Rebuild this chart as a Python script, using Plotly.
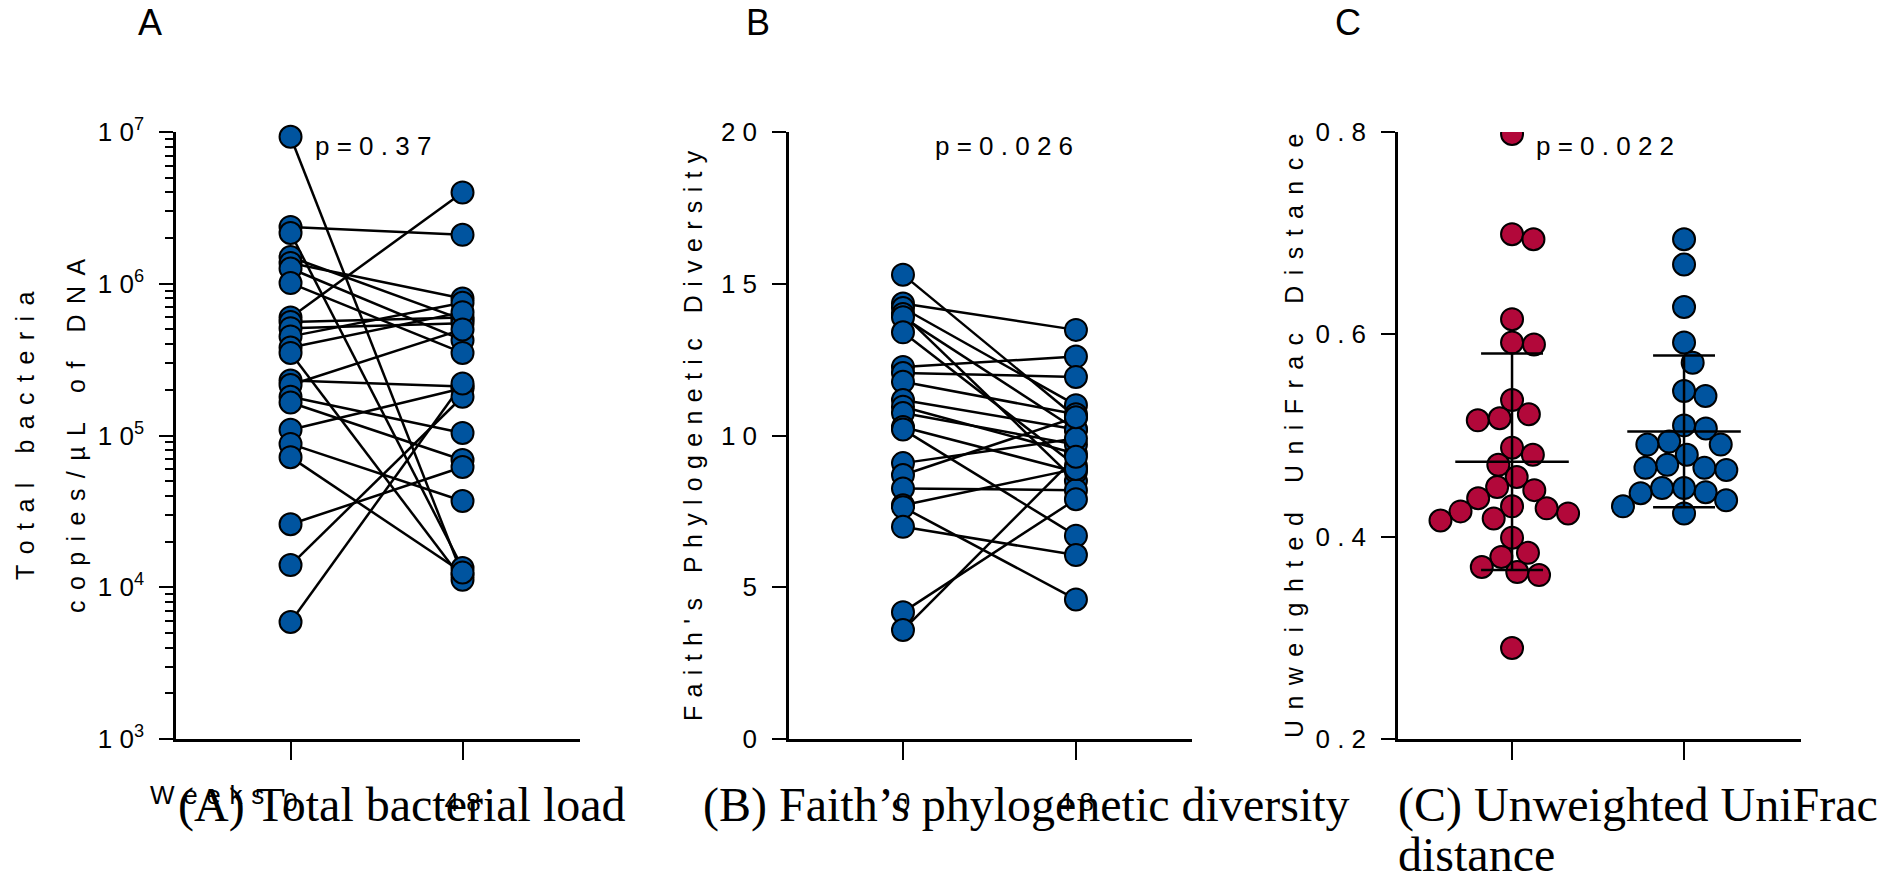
import math
import plotly.graph_objects as go

# ---------------- data ----------------
weeks = ["0", "4 8"]

# Panel A: total bacterial load (copies/uL of DNA), paired week 0 -> week 48
a_week0 = [9.3e6, 2.37e6, 2.16e6, 1.5e6, 1.37e6, 1.26e6, 1.01e6, 6.0e5, 5.6e5, 5.1e5,
           4.5e5, 3.8e5, 3.5e5, 2.3e5, 2.15e5, 1.8e5, 1.65e5, 1.09e5, 8.8e4, 7.2e4,
           2.6e4, 1.4e4, 5.9e3]
a_week48 = [1.2e4, 2.1e6, 1.34e4, 5.8e5, 8.0e5, 4.25e5, 3.5e5, 4.0e6, 6.0e5, 5.5e5,
            7.5e5, 6.5e5, 1.12e4, 2.1e5, 5.0e5, 1.04e5, 6.9e4, 2.05e5, 3.7e4, 1.25e4,
            6.2e4, 1.8e5, 2.2e5]
a_ticks = [1e3, 1e4, 1e5, 1e6, 1e7]
a_ticktext = ["1 0<sup>3</sup>", "1 0<sup>4</sup>", "1 0<sup>5</sup>", "1 0<sup>6</sup>", "1 0<sup>7</sup>"]

# Panel B: Faith's phylogenetic diversity, paired week 0 -> week 48
b_week0 = [15.3, 14.35, 14.2, 14.0, 13.9, 13.4, 12.26, 12.06, 11.77, 11.17, 10.95,
           10.74, 10.28, 10.2, 9.09, 8.7, 8.25, 7.7, 7.64, 6.99, 4.18, 3.59]
b_week48 = [10.6, 13.48, 11.0, 8.5, 10.2, 9.0, 12.6, 11.93, 10.7, 10.2, 9.4,
            9.7, 8.8, 6.7, 9.9, 10.6, 8.2, 8.9, 4.6, 6.06, 7.9, 9.3]
b_ticks = [0, 5, 10, 15, 20]
b_ticktext = ["0", "5", "1 0", "1 5", "2 0"]

# Panel C: unweighted UniFrac distance, two groups
c_group1 = [0.798, 0.699, 0.694, 0.615, 0.592, 0.590, 0.535, 0.521, 0.515, 0.517,
            0.488, 0.481, 0.471, 0.459, 0.449, 0.446, 0.438, 0.430, 0.425, 0.418,
            0.416, 0.423, 0.428, 0.399, 0.380, 0.384, 0.370, 0.365, 0.362, 0.290]
c_group2 = [0.694, 0.669, 0.627, 0.592, 0.572, 0.539, 0.544, 0.507, 0.510, 0.491,
            0.494, 0.491, 0.481, 0.471, 0.468, 0.466, 0.468, 0.444, 0.448, 0.448,
            0.443, 0.436, 0.430, 0.423]
c_mean = [0.474, 0.504]
c_sd = [0.107, 0.075]
c_ticks = [0.2, 0.4, 0.6, 0.8]
c_ticktext = ["0 . 2", "0 . 4", "0 . 6", "0 . 8"]

p_values = ["p = 0 . 3 7", "p = 0 . 0 2 6", "p = 0 . 0 2 2"]
panel_letters = ["A", "B", "C"]
captions = [["(A) Total bacterial load"], ["(B) Faith’s phylogenetic diversity"],
            ["(C) Unweighted UniFrac", "distance"]]

# ---------------- styles ----------------
BLUE = "#00549F"
RED = "#B2083A"
COND = "Liberation Sans Narrow, Arial Narrow, Nimbus Sans Narrow, Liberation Sans, Arial, sans-serif"
SANS = "Liberation Sans, Arial, sans-serif"
SERIF = "Liberation Serif, Times New Roman, serif"
W, H = 1887, 883
YDOM = [1 - 739 / H, 1 - 132 / H]
XDOMS = [[176 / W, 580 / W], [789 / W, 1192 / W], [1398 / W, 1801 / W]]
XRANGES = [[-0.666, 1.683], [-0.659, 1.671], [-0.663, 1.68]]


def spaced(text, gap="\u2004", word="\u2004"):
    return (gap + word + gap).join(gap.join(list(w)) for w in text.split(" "))


def swarm(vals, xscale, yscale, d):
    """simple beeswarm: offsets (in axis units) so circles of diameter d px don't overlap"""
    order = sorted(range(len(vals)), key=lambda i: -vals[i])
    placed = []
    offs = [0.0] * len(vals)
    for i in order:
        y = vals[i] * yscale
        cands = [0.0]
        for (px, py) in placed:
            dy = abs(py - y)
            if dy < d:
                dx = math.sqrt(d * d - dy * dy)
                cands += [px + dx, px - dx]
        cands.sort(key=abs)
        for c in cands:
            if all((c - px) ** 2 + (y - py) ** 2 >= d * d - 1e-6 for (px, py) in placed):
                placed.append((c, y))
                offs[i] = c / xscale
                break
    return offs


fig = go.Figure()

marker_blue = dict(size=22, color=BLUE, line=dict(color="black", width=2))
marker_red = dict(size=22, color=RED, line=dict(color="black", width=2))
LINE = dict(color="black", width=2.5)

# Panel A
lx, ly = [], []
for v0, v1 in zip(a_week0, a_week48):
    lx += [0, 1, None]
    ly += [v0, v1, None]
fig.add_trace(go.Scatter(x=lx, y=ly, mode="lines", line=LINE,
                         xaxis="x", yaxis="y", showlegend=False, hoverinfo="skip", cliponaxis=False))
fig.add_trace(go.Scatter(x=[0] * len(a_week0) + [1] * len(a_week48), y=a_week0 + a_week48,
                         mode="markers", marker=marker_blue, xaxis="x", yaxis="y",
                         showlegend=False, cliponaxis=False))

# Panel B
lx, ly = [], []
for v0, v1 in zip(b_week0, b_week48):
    lx += [0, 1, None]
    ly += [v0, v1, None]
fig.add_trace(go.Scatter(x=lx, y=ly, mode="lines", line=LINE,
                         xaxis="x2", yaxis="y2", showlegend=False, hoverinfo="skip", cliponaxis=False))
fig.add_trace(go.Scatter(x=[0] * len(b_week0) + [1] * len(b_week48), y=b_week0 + b_week48,
                         mode="markers", marker=marker_blue, xaxis="x2", yaxis="y2",
                         showlegend=False, cliponaxis=False))

# Panel C
xscale_c = 403 / (XRANGES[2][1] - XRANGES[2][0])
yscale_c = 607 / 0.6
for gi, (vals, mk) in enumerate([(c_group1, marker_red), (c_group2, marker_blue)]):
    offs = swarm(vals, xscale_c, yscale_c, 22)
    fig.add_trace(go.Scatter(x=[gi + o for o in offs], y=vals, mode="markers", marker=mk,
                             xaxis="x3", yaxis="y3", showlegend=False, cliponaxis=True))
for gi in range(2):
    m, s = c_mean[gi], c_sd[gi]
    xs = [gi - 0.33, gi + 0.33, None, gi, gi, None, gi - 0.18, gi + 0.18, None, gi - 0.18, gi + 0.18]
    ys = [m, m, None, m - s, m + s, None, m + s, m + s, None, m - s, m - s]
    fig.add_trace(go.Scatter(x=xs, y=ys, mode="lines", line=LINE,
                             xaxis="x3", yaxis="y3", showlegend=False, hoverinfo="skip"))

tickfont = dict(family=COND, size=26, color="black")
xcommon = dict(showline=True, linecolor="black", linewidth=2.5, ticks="outside", ticklen=18,
               tickwidth=2, tickcolor="black", showgrid=False, zeroline=False, tickmode="array",
               tickvals=[0, 1], tickfont=tickfont, ticklabelstandoff=20, fixedrange=True,
               automargin=False)
ycommon = dict(showline=True, linecolor="black", linewidth=2.5, ticks="outside", ticklen=14,
               tickwidth=2, tickcolor="black", showgrid=False, zeroline=False, tickmode="array",
               tickfont=tickfont, ticklabelstandoff=10, domain=YDOM, automargin=False)

fig.update_layout(
    width=W, height=H, margin=dict(l=0, r=0, t=0, b=0, autoexpand=False),
    paper_bgcolor="white", plot_bgcolor="rgba(0,0,0,0)", showlegend=False,
    xaxis=dict(xcommon, domain=XDOMS[0], range=XRANGES[0], ticktext=weeks, anchor="y"),
    yaxis=dict(ycommon, type="log", range=[3, 7], tickvals=a_ticks, ticktext=a_ticktext, anchor="x",
               minor=dict(ticks="outside", ticklen=8, tickwidth=1.8, tickcolor="black", dtick="D1",
                          showgrid=False)),
    xaxis2=dict(xcommon, domain=XDOMS[1], range=XRANGES[1], ticktext=weeks, anchor="y2"),
    yaxis2=dict(ycommon, range=[0, 20], tickvals=b_ticks, ticktext=b_ticktext, anchor="x2"),
    xaxis3=dict(xcommon, domain=XDOMS[2], range=XRANGES[2], showticklabels=False, anchor="y3"),
    yaxis3=dict(ycommon, range=[0.2, 0.8], tickvals=c_ticks, ticktext=c_ticktext, anchor="x3"),
)

ann = []
# panel letters
for letter, xc in zip(panel_letters, [150, 758, 1348]):
    ann.append(dict(text=letter, x=xc / W, y=1 - 22 / H, xref="paper", yref="paper",
                    xanchor="center", yanchor="middle", showarrow=False,
                    font=dict(family=COND, size=36, color="black")))
# p values
for k, (pt, xc) in enumerate(zip(p_values, [373, 1004, 1605])):
    ann.append(dict(text=pt, x=xc / W, y=1 - 146 / H, xref="paper", yref="paper",
                    xanchor="center", yanchor="middle", showarrow=False, font=tickfont))
# y titles (text, x centre, letter gap)
ytitles = [("Total bacteria", 25, "\u2004\u200a"), ("copies/µL of DNA", 76, "\u2004\u200a"),
           ("Faith's Phylogenetic Diversity", 693, "\u2004"),
           ("Unweighted UniFrac Distance", 1294, "\u2004\u200a")]
for t, xc, g in ytitles:
    ann.append(dict(text=spaced(t, gap=g), x=xc / W, y=1 - 436 / H, xref="paper", yref="paper",
                    xanchor="center", yanchor="middle", textangle=-90, showarrow=False,
                    font=dict(family=SANS, size=25, color="black")))
# x title "Weeks"
ann.append(dict(text=spaced("Weeks"), x=148 / W, y=1 - 795 / H, xref="paper", yref="paper",
                xanchor="left", yanchor="middle", showarrow=False, font=tickfont))
# captions (each line placed 50 px below the previous one)
for lines, xl in zip(captions, [176, 701, 1396]):
    for li, cap in enumerate(lines):
        ann.append(dict(text=cap, x=xl / W, y=1 - (776 + 50 * li) / H, xref="paper", yref="paper",
                        xanchor="left", yanchor="top", align="left", showarrow=False,
                        font=dict(family=SERIF, size=48, color="black")))
fig.update_layout(annotations=ann)

fig.write_html("out.html", config={"displayModeBar": False},
               post_script="document.body.style.margin='0';document.body.style.overflow='hidden';")
